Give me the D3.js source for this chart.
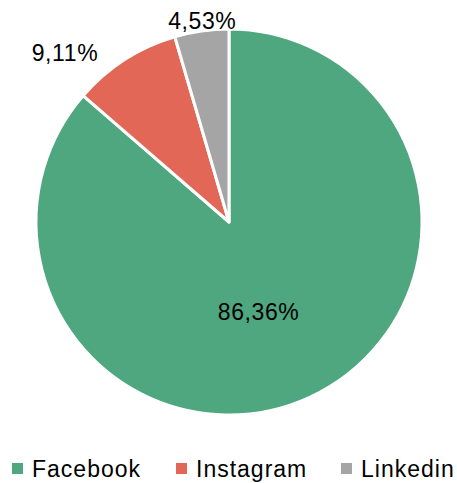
<!DOCTYPE html>
<html><head><meta charset="utf-8">
<script src="https://cdn.jsdelivr.net/npm/d3@7"></script>
<style>body{margin:0;background:#fff}svg{display:block}text{font-family:"Liberation Sans",Arial,sans-serif;fill:#000}</style>
</head><body><div id="c"></div>
<script>
const categories = ["Facebook","Instagram","Linkedin"];
const values = [86.36, 9.11, 4.53];
const labels = ["86,36%","9,11%","4,53%"];
const colors = ["#4FA77F","#E36757","#A5A5A5"];

const W=457,H=483,cx=229,cy=222,R=193;
const svg=d3.select("#c").append("svg").attr("width",W).attr("height",H);
const pie=d3.pie().sort(null).value(d=>d)(values);
const arc=d3.arc().innerRadius(0).outerRadius(R);
const g=svg.append("g").attr("transform",`translate(${cx},${cy})`);
g.selectAll("path").data(pie).join("path").attr("d",arc)
 .attr("fill",(d,i)=>colors[i]).attr("stroke","#fff").attr("stroke-width",3).attr("stroke-linejoin","round");
const labelPos=[{a:0.11,r:0.49},{a:-0.2,r:1.22},{a:0.01,r:1.05}];
g.selectAll("text.lab").data(pie).join("text").attr("class","lab")
 .attr("font-size",23).attr("letter-spacing",0.6).attr("text-anchor","middle").attr("dominant-baseline","central")
 .attr("x",(d,i)=>{const m=(d.startAngle+d.endAngle)/2+labelPos[i].a;return Math.sin(m)*R*labelPos[i].r;})
 .attr("y",(d,i)=>{const m=(d.startAngle+d.endAngle)/2+labelPos[i].a;return -Math.cos(m)*R*labelPos[i].r;})
 .text((d,i)=>labels[i]);
const legX=[12,176,341];
const lg=svg.append("g");
categories.forEach((c,i)=>{
  lg.append("rect").attr("x",legX[i]).attr("y",463).attr("width",11).attr("height",11).attr("fill",colors[i]);
  lg.append("text").attr("x",legX[i]+20).attr("y",477).attr("font-size",23).attr("letter-spacing",1.0).text(c);
});
</script></body></html>
